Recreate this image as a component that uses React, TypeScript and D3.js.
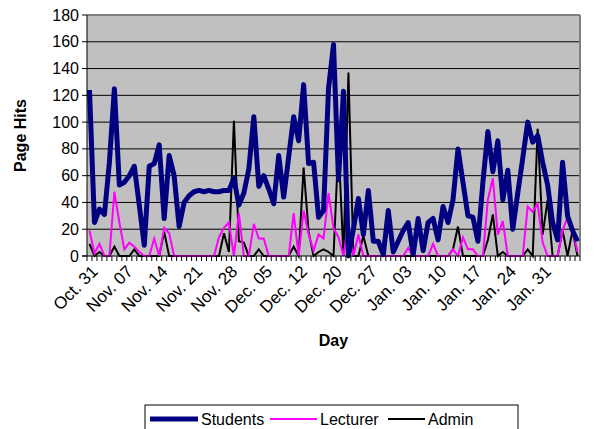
import React from "react";
import * as d3 from "d3";

const students = [124,25,35,31,70,125,53,55,60,67,38,8,67,69,83,28,75,60,22,
  40,45,48,49,48,49,48,48,49,49,58,38,47,65,104,52,60,50,39,75,44,74,104,86,128,69,70,29,34,125,158,57,123,
  0,20,43,16,49,11,11,1,34,3,11,19,25,1,28,4,25,28,12,37,25,42,80,
  55,30,29,11,55,93,63,86,42,64,20,47,73,100,85,90,70,53,25,12,70,30,19,11];
const lecturer = [19,2,9,0,0,48,25,5,10,7,3,0,0,13,0,21,17,
  0,0,0,0,0,0,0,0,0,14,21,25,0,32,0,0,24,13,13,0,0,0,0,0,32,0,34,16,4,16,13,47,21,14,0,
  24,0,16,0,0,0,0,0,0,0,0,0,6,0,0,0,0,9,0,0,0,5,0,
  14,5,5,0,0,42,58,16,26,0,0,0,0,37,33,39,10,0,0,0,19,29,19,3];
const admin = [9,0,3,0,0,7,0,0,0,5,0,0,0,0,0,18,0,
  0,0,0,0,0,0,0,0,0,0,17,3,101,11,10,0,0,5,0,0,0,0,0,0,7,0,66,18,0,3,5,3,0,84,0,
  137,0,0,15,0,0,0,0,0,0,0,0,0,0,0,0,0,0,0,0,0,5,22,
  0,0,0,0,0,12,31,0,3,0,0,0,0,5,0,95,16,42,0,0,19,0,19,0];
const tickLabels = ["Oct. 31","Nov. 07","Nov. 14","Nov. 21","Nov. 28","Dec. 05","Dec. 12","Dec. 20","Dec. 27","Jan. 03","Jan. 10","Jan. 17","Jan. 24","Jan. 31"];
const labelEvery = 7;
const yTicks = [0,20,40,60,80,100,120,140,160,180];

const FONT = "'Liberation Sans', Arial, sans-serif";
const FS = 16;
const FSX = 17;

export default function App() {
  const W = 607, H = 429;
  const L = 87, R = 580, T = 15, B = 256;
  const n = students.length;
  const idx = d3.range(n);
  const x = d3.scaleBand<number>().domain(idx).range([L, R]);
  const bw = x.bandwidth();
  const cx = (i: number) => (x(i) as number) + bw / 2;
  const y = d3.scaleLinear().domain([0, 180]).range([B, T]);
  const line = d3.line<number>().x((_, i) => cx(i)).y((d) => y(d));
  const LY = 419;

  return (
    <svg width={W} height={H} style={{ position: "absolute", left: 0, top: 0, background: "#fff" }} fontFamily={FONT}>
      <rect x={L} y={T} width={R - L} height={B - T} fill="#C0C0C0" />
      {yTicks.filter((v) => v > 0 && v < 180).map((v) => (
        <line key={v} x1={L} x2={R} y1={y(v)} y2={y(v)} stroke="#000" strokeWidth={1} />
      ))}
      <line x1={L} x2={R} y1={T} y2={T} stroke="#808080" strokeWidth={2} />
      <line x1={R} x2={R} y1={T} y2={B} stroke="#808080" strokeWidth={2} />
      <path d={line(admin) || ""} fill="none" stroke="#000" strokeWidth={2} />
      <path d={line(lecturer) || ""} fill="none" stroke="#FF00FF" strokeWidth={2} />
      <path d={line(students) || ""} fill="none" stroke="#000080" strokeWidth={5} strokeLinejoin="round" />
      <line x1={L} x2={L} y1={T} y2={B} stroke="#000" strokeWidth={1} />
      <line x1={L - 5} x2={R} y1={B} y2={B} stroke="#000" strokeWidth={1} />
      {yTicks.map((v) => (
        <g key={v}>
          <line x1={L - 5} x2={L} y1={y(v)} y2={y(v)} stroke="#000" />
          <text x={L - 8} y={y(v)} textAnchor="end" dominantBaseline="central" fontSize={FS}>{v}</text>
        </g>
      ))}
      {d3.range(n + 1).map((i) => {
        const xx = i < n ? (x(i) as number) : R;
        return <line key={i} x1={xx} x2={xx} y1={B} y2={B + 5} stroke="#000" />;
      })}
      {tickLabels.map((lab, k) => {
        const i = k * labelEvery;
        return (
          <text key={lab} transform={`translate(${cx(i) + 1},${B + 8}) rotate(-45)`} textAnchor="end" dominantBaseline="hanging" fontSize={FSX}>{lab}</text>
        );
      })}
      <text x={(L + R) / 2} y={346} textAnchor="middle" fontWeight="bold" fontSize={FS}>Day</text>
      <text transform={`translate(20,${(T + B) / 2}) rotate(-90)`} textAnchor="middle" dominantBaseline="central" fontWeight="bold" fontSize={FS}>Page Hits</text>
      <rect x={145} y={405} width={373} height={32} fill="#fff" stroke="#000" strokeWidth={1} />
      <line x1={150} x2={198} y1={LY} y2={LY} stroke="#000080" strokeWidth={5} />
      <text x={201} y={LY} dominantBaseline="central" fontSize={FS}>Students</text>
      <line x1={270} x2={317} y1={LY} y2={LY} stroke="#FF00FF" strokeWidth={2} />
      <text x={320} y={LY} dominantBaseline="central" fontSize={FS}>Lecturer</text>
      <line x1={388} x2={425} y1={LY} y2={LY} stroke="#000" strokeWidth={2} />
      <text x={428} y={LY} dominantBaseline="central" fontSize={FS}>Admin</text>
    </svg>
  );
}
